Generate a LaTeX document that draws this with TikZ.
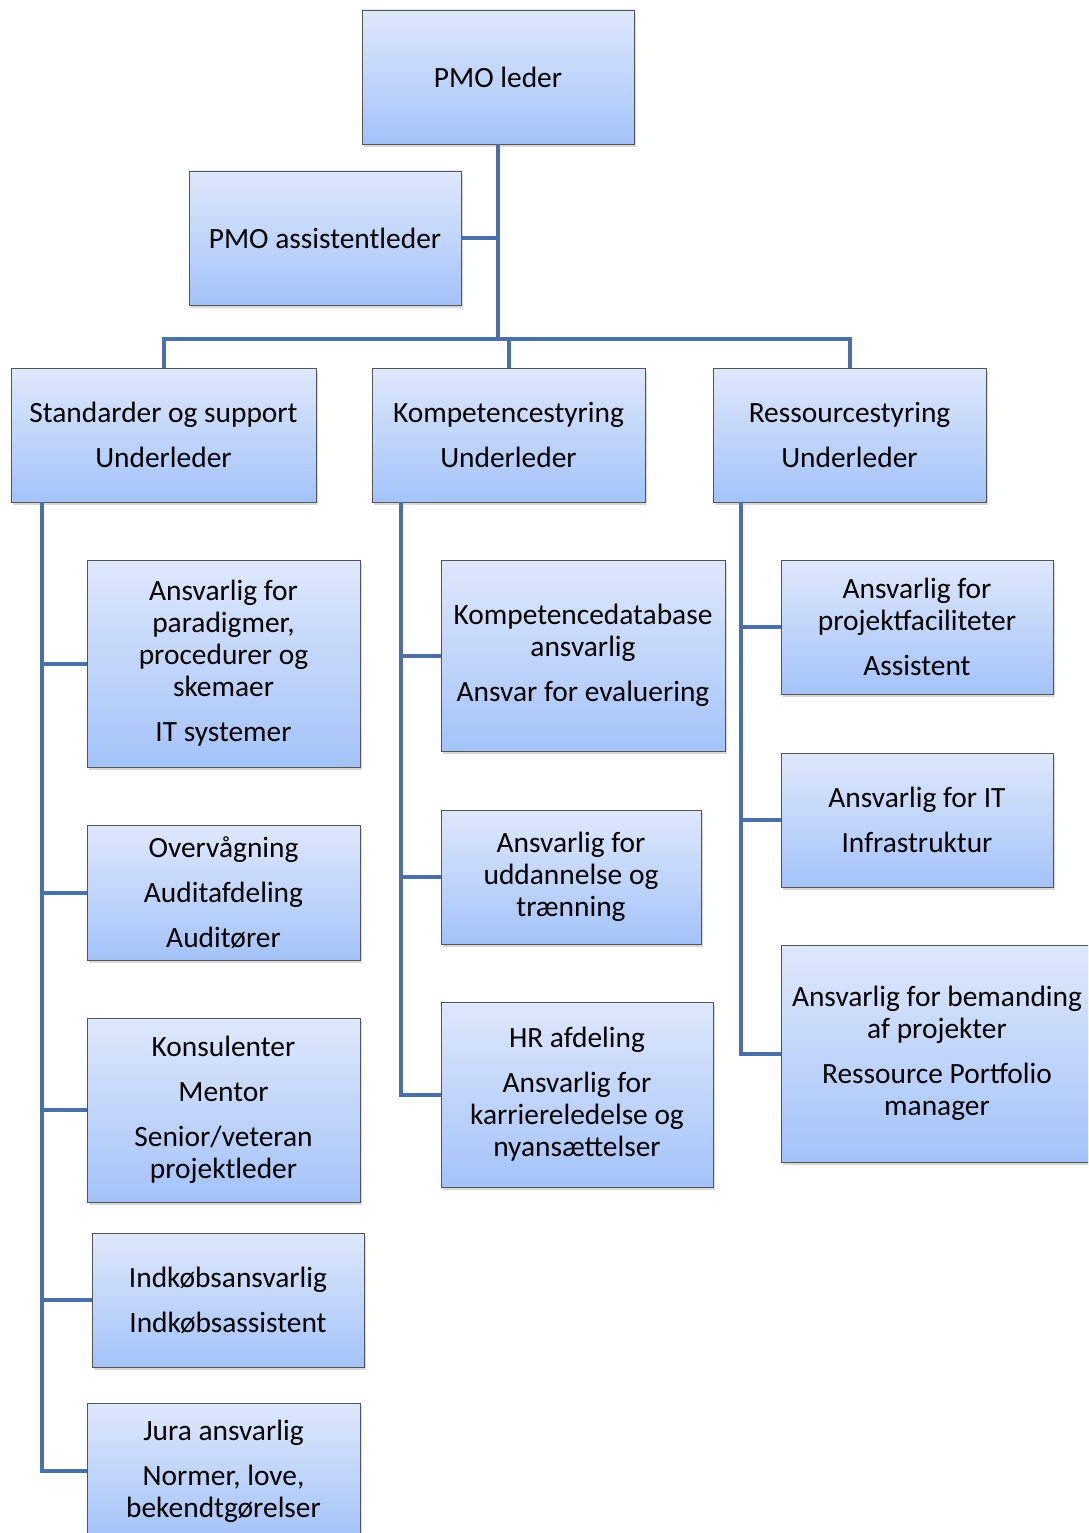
\documentclass[tikz,border=0pt]{standalone}
\usepackage{fontspec}
\setmainfont{Carlito}
\usetikzlibrary{shadows}
\definecolor{boxtop}{HTML}{DEE8FB}
\definecolor{boxbot}{HTML}{A4C3F9}
\definecolor{boxline}{HTML}{555555}
\definecolor{wire}{HTML}{4A71A7}
\tikzset{
  orgbox/.style={draw=boxline, line width=0.9pt, top color=boxtop, bottom color=boxbot,
    align=center, inner sep=0pt, font=\fontsize{29.4}{32}\selectfont,
    drop shadow={shadow xshift=1.5pt, shadow yshift=-3pt, opacity=0.3}},
  link/.style={draw=wire, line width=4pt, line join=miter}
}
\newcommand{\pgap}{\\[13pt]}
\begin{document}
\begin{tikzpicture}[x=1pt, y=-1pt]
\clip (0,0) rectangle (1088,1533);
\fill[white] (0,0) rectangle (1088,1533);

% top level
\node[orgbox, minimum width=272pt, minimum height=134pt] (pmo) at (498,77) {PMO leder};
\node[orgbox, minimum width=272pt, minimum height=134pt] (asst) at (325,238) {PMO assistentleder};

% sub-leaders
\node[orgbox, minimum width=305pt, minimum height=134pt] (std) at (163.5,435) {Standarder og support\pgap Underleder};
\node[orgbox, minimum width=273pt, minimum height=134pt] (kom) at (508.5,435) {Kompetencestyring\pgap Underleder};
\node[orgbox, minimum width=273pt, minimum height=134pt] (res) at (849.5,435) {Ressourcestyring\pgap Underleder};

% standards and support
\node[orgbox, minimum width=273pt, minimum height=207pt] (s1) at (223.5,663.5) {Ansvarlig for\\paradigmer,\\procedurer og\\skemaer\pgap IT systemer};
\node[orgbox, minimum width=273pt, minimum height=135pt] (s2) at (223.5,892.5) {Overvågning\pgap Auditafdeling\pgap Auditører};
\node[orgbox, minimum width=273pt, minimum height=184pt] (s3) at (223.5,1110) {Konsulenter\pgap Mentor\pgap Senior/veteran\\projektleder};
\node[orgbox, minimum width=272pt, minimum height=134pt] (s4) at (228,1300) {Indkøbsansvarlig\pgap Indkøbsassistent};
\node[orgbox, minimum width=273pt, minimum height=136pt] (s5) at (223.5,1471) {Jura ansvarlig\pgap Normer, love,\\bekendtgørelser};

% competence management
\node[orgbox, minimum width=284pt, minimum height=191pt] (k1) at (583,655.5) {Kompetencedatabase\\ansvarlig\pgap Ansvar for evaluering};
\node[orgbox, minimum width=260pt, minimum height=134pt] (k2) at (571,877) {Ansvarlig for\\uddannelse og\\trænning};
\node[orgbox, minimum width=272pt, minimum height=185pt] (k3) at (577,1094.5) {HR afdeling\pgap Ansvarlig for\\karriereledelse og\\nyansættelser};

% resource management
\node[orgbox, minimum width=272pt, minimum height=134pt] (r1) at (917,627) {Ansvarlig for\\projektfaciliteter\pgap Assistent};
\node[orgbox, minimum width=272pt, minimum height=134pt] (r2) at (917,820) {Ansvarlig for IT\pgap Infrastruktur};
\node[orgbox, minimum width=312pt, minimum height=217pt] (r3) at (937,1053.5) {Ansvarlig for bemanding\\af projekter\pgap Ressource Portfolio\\manager};

% connectors
\coordinate (bar) at (498,339);
\path[link] (pmo.south) -- (bar);
\path[link] (asst.east) -- (asst.east -| pmo.south);
\path[link] (std.north) -- (std.north |- bar) -- (res.north |- bar) -- (res.north);
\path[link] (kom.north) -- (kom.north |- bar);

\coordinate (sspine) at ([xshift=31pt]std.south west);
\coordinate (kspine) at ([xshift=29pt]kom.south west);
\coordinate (rspine) at ([xshift=28pt]res.south west);

\path[link] (sspine) |- (s5.west);
\foreach \b in {s1,s2,s3,s4} \path[link] (sspine |- \b.west) -- (\b.west);
\path[link] (kspine) |- (k3.west);
\foreach \b in {k1,k2} \path[link] (kspine |- \b.west) -- (\b.west);
\path[link] (rspine) |- (r3.west);
\foreach \b in {r1,r2} \path[link] (rspine |- \b.west) -- (\b.west);
\end{tikzpicture}
\end{document}
